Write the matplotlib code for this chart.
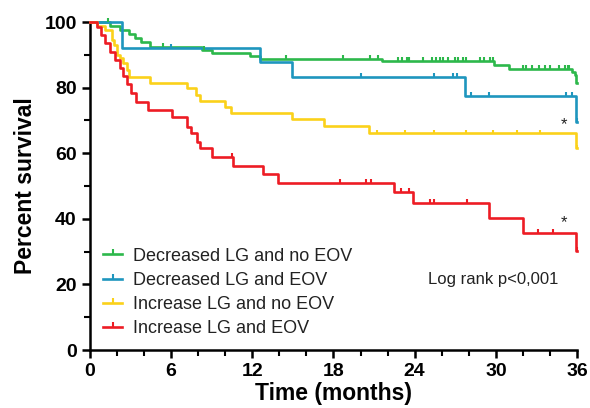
import matplotlib
matplotlib.use("Agg")
import matplotlib.pyplot as plt
import numpy as np
from matplotlib.path import Path
from matplotlib.lines import Line2D

plt.rcParams['font.family'] = ['Liberation Sans', 'DejaVu Sans']

labels = ["Decreased LG and no EOV", "Decreased LG and EOV",
          "Increase LG and no EOV", "Increase LG and EOV"]
colors = ["#2DB84B", "#1E96BE", "#FBD11A", "#ED1C24"]

# drop times (months) and survival level (%) after each drop
green_t = [1.5, 2.2, 2.9, 3.3, 3.8, 4.4, 8.3, 9.0, 11.8, 12.6, 21.6, 29.9, 31.0, 35.6, 35.85, 35.95]
green_v = [98.7, 97.5, 96.3, 95.2, 94.0, 92.5, 91.5, 90.5, 89.6, 88.8, 88.0, 86.9, 85.6, 84.7, 83.8, 81.3]
green_c = [1.35, 5.4, 8.4, 14.5, 18.7, 20.7, 21.3, 22.8, 23.1, 23.4, 23.6, 24.6, 25.3, 25.6, 25.9,
           26.1, 26.5, 27.0, 27.2, 27.6, 27.8, 28.8, 29.1, 29.6, 29.8, 32.0, 32.2, 32.7, 33.2,
           33.6, 34.0, 34.7, 35.1, 35.3, 35.4]

blue_t = [2.4, 12.6, 14.9, 27.7, 35.95]
blue_v = [92.0, 87.8, 83.3, 77.5, 69.5]
blue_c = [6.0, 20.0, 25.4, 26.8, 27.1, 28.2, 29.5, 35.2, 35.6, 36.0]

yellow_t = [0.5, 1.1, 1.6, 1.8, 2.0, 2.2, 2.45, 2.7, 2.9, 4.4, 7.2, 7.8, 8.1, 10.0, 10.4,
            14.9, 17.3, 20.6, 35.95]
yellow_v = [98.8, 97.5, 94.5, 93.0, 90.0, 89.0, 87.5, 85.4, 83.2, 81.4, 79.9, 77.7, 76.0,
            74.0, 72.3, 70.5, 68.3, 66.2, 61.6]
yellow_c = [21.2, 23.3, 25.4, 27.8, 29.8, 31.6, 33.3, 36.0]

red_t = [0.5, 0.8, 1.1, 1.5, 1.85, 2.2, 2.45, 2.7, 3.0, 3.4, 4.3, 6.05, 7.2, 7.5, 7.9, 8.1,
         9.05, 10.6, 12.8, 13.9, 22.5, 23.9, 29.5, 32.0, 35.95]
red_v = [98.5, 96.0, 93.5, 91.0, 88.4, 86.0, 83.5, 81.0, 78.3, 75.6, 73.2, 71.0, 68.0, 66.2,
         63.4, 61.6, 58.8, 56.0, 53.7, 51.0, 48.1, 44.8, 40.2, 35.7, 30.2]
red_c = [10.5, 18.5, 20.4, 20.8, 23.0, 23.6, 25.1, 25.4, 27.9, 33.1, 34.2, 36.0]

series = [(green_t, green_v, green_c), (blue_t, blue_v, blue_c),
          (yellow_t, yellow_v, yellow_c), (red_t, red_v, red_c)]
censor_sizes = [6, 6, 4, 6]

x_ticks = [0, 6, 12, 18, 24, 30, 36]
y_ticks = [0, 20, 40, 60, 80, 100]
end_time = 36.0

tick_marker = Path([(0, 0), (0, 1)], [Path.MOVETO, Path.LINETO])

fig = plt.figure(figsize=(5.9, 4.08), dpi=100)
ax = fig.add_axes([0.1525, 0.142, 0.8255, 0.804])

for (t, v, c), col, ms in zip(series, colors, censor_sizes):
    tt = np.array([0.0] + list(t) + [end_time])
    vv = np.array([100.0] + list(v) + [v[-1]])
    ax.step(tt, vv, where='post', color=col, lw=1.9, clip_on=False, zorder=3)
    ct = np.array(c)
    idx = np.searchsorted(tt, ct, side='right') - 1
    cv = vv[idx]
    ax.plot(ct, cv, linestyle='none', marker=tick_marker, markersize=ms,
            markeredgewidth=1.5, color=col, clip_on=False, zorder=4)

ax.text(35.0, 68.6, "*", ha='center', va='center', fontsize=12, color='#222222')
ax.text(35.0, 39.0, "*", ha='center', va='center', fontsize=12, color='#222222')
ax.text(25.0, 21.5, "Log rank p<0,001", ha='left', va='center', fontsize=12, color='#222222')

handles = [Line2D([0], [0], color=col, lw=1.9, marker=tick_marker, markersize=7,
                  markeredgewidth=1.5) for col in colors]
leg = ax.legend(handles, labels, loc='lower left', bbox_to_anchor=(0.0, 0.0),
                frameon=False, fontsize=13, handlelength=1.1, handletextpad=0.6,
                labelspacing=0.4, numpoints=1, borderaxespad=0.3)
for txt in leg.get_texts():
    txt.set_color('#222222')

ax.set_xlim(0, 36)
ax.set_ylim(0, 100)
ax.set_xticks(x_ticks)
ax.set_yticks(y_ticks)
ax.set_xticks(np.arange(0, 37, 2), minor=True)
ax.set_yticks(np.arange(0, 101, 10), minor=True)
for lab in ax.get_xticklabels() + ax.get_yticklabels():
    lab.set_fontweight('bold')
ax.tick_params(axis='both', which='major', labelsize=14, width=1.8, length=6, direction='out')
ax.tick_params(axis='both', which='minor', width=1.5, length=4, direction='out')
for s in ['top', 'right']:
    ax.spines[s].set_visible(False)
for s in ['left', 'bottom']:
    ax.spines[s].set_linewidth(1.8)

ax.set_xlabel("Time (months)", fontsize=16.5, fontweight='bold', labelpad=1)
ax.set_ylabel("Percent survival", fontsize=16.5, fontweight='bold', labelpad=5)

fig.savefig("out.png", dpi=100)
